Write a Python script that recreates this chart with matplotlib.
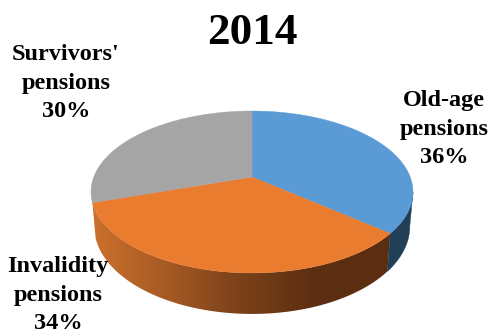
import matplotlib
matplotlib.use("Agg")
import matplotlib.pyplot as plt
import numpy as np
from matplotlib.colors import LinearSegmentedColormap

categories = ["Old-age\npensions", "Invalidity\npensions", "Survivors'\npensions"]
shares = [36, 34, 30]
top_colors = ["#5b9bd5", "#ea7c30", "#a5a5a5"]

# tilted disc: centre of the pie in pixels and the perspective terms
cx, cy = 252, 177
a, b, k = 158.2, 78.2, 0.185
depth = 33.4

orange_side = LinearSegmentedColormap.from_list(
    "side", ["#cc702c", "#a55a24", "#7a4119", "#5c2e11", "#5c2e11"])


def rim(theta):
    u, v = np.sin(theta), np.cos(theta)
    w = 1 + k * v
    return cx + a * u / w, cy - b * v / w


def wall(theta):
    # outline of the side wall below an arc of the rim
    x, y = rim(theta)
    w = 1 + k * np.cos(theta)
    low_x = cx + (x - cx) * 0.98
    low_y = y + depth / w
    return np.r_[x, low_x[::-1]], np.r_[y, low_y[::-1]]


fig = plt.figure(figsize=(4.92, 3.34), dpi=100)
ax = fig.add_axes([0, 0, 1, 1])

edges = np.cumsum([0] + shares) / sum(shares) * 2 * np.pi

# side wall of the blue slice, from the right-most point of the rim to its end
x, y = wall(np.linspace(np.arccos(-k), edges[1], 100))
ax.fill(x, y, color="#223f58", lw=0.3)

# side wall of the orange slice with a left to right shading
x, y = wall(np.linspace(edges[1], edges[2], 300))
patch = ax.fill(x, y, color="none", lw=0)[0]
shade = ax.imshow(np.linspace(0, 1, 256).reshape(1, -1), cmap=orange_side, aspect="auto",
                  extent=[x.min(), x.max(), y.max(), y.min()])
shade.set_clip_path(patch)

# top face
for i in range(len(shares)):
    theta = np.linspace(edges[i], edges[i + 1], 200)
    x, y = rim(theta)
    ax.fill(np.r_[cx, x], np.r_[cy, y], color=top_colors[i], lw=0.3)

ax.set_xlim(0, 492)
ax.set_ylim(334, 0)
ax.axis("off")

serif = "Liberation Serif"
ax.text(252, 33, "2014", family=serif, weight="bold", fontsize=32.5, ha="center", va="center")

label_pos = [(444, 129), (58, 295), (66, 83)]
for name, share, (lx, ly) in zip(categories, shares, label_pos):
    ax.text(lx, ly, f"{name}\n{share}%", family=serif, weight="bold", fontsize=17.5,
            ha="center", va="center", linespacing=1.45)

fig.savefig("out.png", dpi=100)
